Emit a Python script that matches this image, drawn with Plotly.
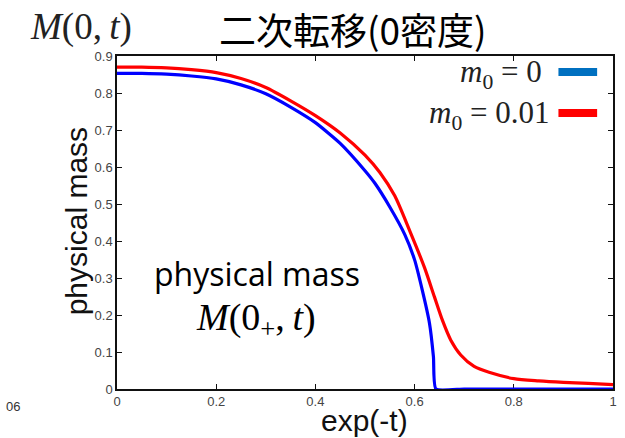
import plotly.graph_objects as go

# ---- data -------------------------------------------------------------
x_m0_zero = [0.0, 0.05, 0.1, 0.15, 0.2, 0.25, 0.3, 0.35, 0.4, 0.45, 0.5,
             0.52, 0.55, 0.58, 0.6, 0.615, 0.63, 0.638, 0.643, 0.7, 0.8, 0.9, 1.0]
y_m0_zero = [0.853, 0.853, 0.851, 0.846, 0.838, 0.822, 0.798, 0.762, 0.720, 0.664, 0.590,
             0.556, 0.492, 0.418, 0.349, 0.270, 0.178, 0.087, 0.0, 0.0, 0.0, 0.0, 0.0]

x_m0_001 = [0.0, 0.05, 0.1, 0.15, 0.2, 0.25, 0.3, 0.35, 0.4, 0.45, 0.5, 0.53, 0.56,
            0.59, 0.62, 0.64, 0.656, 0.673, 0.693, 0.72, 0.75, 0.8, 0.85, 0.9, 0.95, 1.0]
y_m0_001 = [0.870, 0.870, 0.868, 0.863, 0.855, 0.839, 0.815, 0.779, 0.739, 0.692, 0.632,
            0.585, 0.522, 0.428, 0.328, 0.249, 0.186, 0.132, 0.092, 0.061, 0.045, 0.028,
            0.022, 0.018, 0.015, 0.012]

x_ticks = [0, 0.2, 0.4, 0.6, 0.8, 1.0]
x_tick_labels = ["0", "0.2", "0.4", "0.6", "0.8", "1"]
y_ticks = [0, 0.1, 0.2, 0.3, 0.4, 0.5, 0.6, 0.7, 0.8, 0.9]
y_tick_labels = ["0", "0.1", "0.2", "0.3", "0.4", "0.5", "0.6", "0.7", "0.8", "0.9"]

series_labels = ["<i>m</i><sub>0</sub>\u2005=\u20050", "<i>m</i><sub>0</sub>\u2005=\u20050.01"]

# ---- layout geometry (pixels) -----------------------------------------
W, H = 625, 438
L, R, T, B = 117, 617, 56, 389


def px(p):
    return (p - L) / (R - L)


def py(p):
    return (B - p) / (B - T)


fig = go.Figure()
fig.add_trace(go.Scatter(x=x_m0_001, y=y_m0_001, mode="lines", cliponaxis=False,
                         line=dict(color="#ff0000", width=3.2, shape="spline", smoothing=0.7),
                         hoverinfo="skip", showlegend=False))
fig.add_trace(go.Scatter(x=x_m0_zero, y=y_m0_zero, mode="lines", cliponaxis=False,
                         line=dict(color="#0000ff", width=3.2, shape="spline", smoothing=0.5),
                         hoverinfo="skip", showlegend=False))

axis_common = dict(showline=True, linecolor="#111", linewidth=1.5, mirror="ticks",
                   ticks="inside", ticklen=5, tickwidth=1.2, tickcolor="#111",
                   showgrid=False, zeroline=False, layer="below traces",
                   tickfont=dict(family="Liberation Sans, Arial, sans-serif", size=13, color="#444"))

fig.update_xaxes(range=[0, 1], tickvals=x_ticks, ticktext=x_tick_labels, **axis_common)
fig.update_yaxes(range=[0, 0.9], tickvals=y_ticks, ticktext=y_tick_labels, **axis_common)

sans = "Liberation Sans, Arial, sans-serif"
serif = "Liberation Serif, Times New Roman, serif"

annotations = [
    dict(text="二次転移(0密度)", x=px(355), y=py(29),
         font=dict(family="Noto Sans CJK JP", size=37, color="#000")),
    dict(text="<i>M</i>(0,\u2009<i>t</i>)", x=px(81), y=py(27),
         font=dict(family=serif, size=37, color="#222")),
    dict(text="physical mass", x=px(76), y=py(221), textangle=-90,
         font=dict(family=sans, size=30, color="#111")),
    dict(text="exp(-t)", x=px(366), y=py(420),
         font=dict(family=sans, size=30, color="#111")),
    dict(text="physical mass", x=px(258), y=py(273),
         font=dict(family="Open Sans, sans-serif", size=32, color="#000")),
    dict(text="<i>M</i>(0<sub>+</sub>,\u2009<i>t</i>)", x=px(257), y=py(320),
         font=dict(family=serif, size=38, color="#000")),
    dict(text=series_labels[0], x=px(547), y=py(74), xanchor="right",
         font=dict(family=serif, size=31, color="#222")),
    dict(text=series_labels[1], x=px(555), y=py(115), xanchor="right",
         font=dict(family=serif, size=31, color="#222")),
    dict(text="06", x=px(12), y=py(406),
         font=dict(family=sans, size=13, color="#333")),
]
for a in annotations:
    a.setdefault("xanchor", "center")
    a.update(xref="paper", yref="paper", yanchor="middle", showarrow=False)

swatches = [("#0070c0", 72), ("#ff0000", 113)]
shapes = [dict(type="line", xref="paper", yref="paper", x0=px(562), x1=px(601),
               y0=py(yy), y1=py(yy), line=dict(color=c, width=8)) for c, yy in swatches]

fig.update_layout(width=W, height=H, margin=dict(l=L, r=W - R, t=T, b=H - B),
                  paper_bgcolor="white", plot_bgcolor="white",
                  annotations=annotations, shapes=shapes, showlegend=False)

fig.write_html("out.html")
